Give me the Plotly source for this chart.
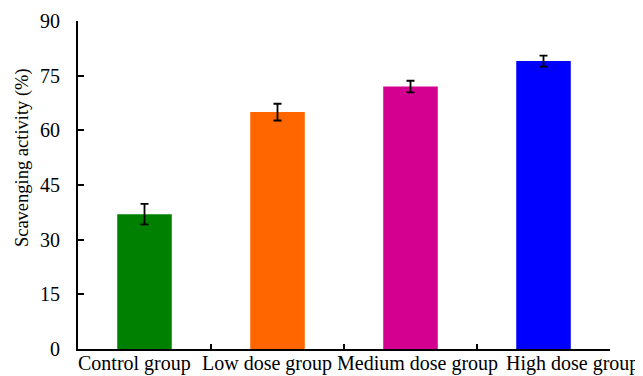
import plotly.graph_objects as go

categories = ["Control group", "Low dose group", "Medium dose group", "High dose group"]
values = [37.0, 65.0, 72.0, 79.0]
errors = [2.8, 2.3, 1.6, 1.5]
colors = ["#008000", "#FF6600", "#D4008F", "#0000FF"]
y_ticks = [0, 15, 30, 45, 60, 75, 90]
y_title = "Scavenging activity (%)"

# horizontal nudges of the category labels (style only)
label_shift = [-10, -11, 7, 29]

font_family = "Liberation Serif"

fig = go.Figure()
fig.add_trace(go.Bar(
    x=categories, y=values,
    marker=dict(color=colors, line=dict(width=0)),
    width=0.41,
    error_y=dict(type="data", array=errors, color="black", thickness=1.8, width=4),
))

for cat, dx in zip(categories, label_shift):
    fig.add_annotation(
        x=cat, xref="x", y=0, yref="paper", yanchor="top", xanchor="center",
        text=cat, showarrow=False, xshift=dx, yshift=-1,
        font=dict(size=20, family=font_family, color="black"),
    )

fig.add_annotation(
    x=0, xref="paper", y=0.582, yref="paper", xanchor="center", yanchor="middle",
    xshift=-56, text=y_title, textangle=-90, showarrow=False,
    font=dict(size=18.5, family=font_family, color="black"),
)

fig.update_layout(
    width=643, height=376,
    margin=dict(l=70, r=41, t=13, b=35, autoexpand=False),
    plot_bgcolor="white", paper_bgcolor="white",
    showlegend=False,
    font=dict(family=font_family, color="black", size=20),
)
fig.update_xaxes(
    type="category", categoryorder="array", categoryarray=categories,
    range=[-0.5, len(categories) - 0.5],
    showline=True, linecolor="black", linewidth=2,
    ticks="inside", tickson="boundaries", ticklen=5, tickwidth=1.5, tickcolor="black",
    showticklabels=False, automargin=False, showgrid=False,
)
fig.update_yaxes(
    range=[0, 90], tickvals=y_ticks,
    showline=True, linecolor="black", linewidth=2,
    ticks="inside", ticklen=6, tickwidth=1.5, tickcolor="black",
    ticklabelstandoff=12, automargin=False,
    tickfont=dict(size=20, family=font_family), showgrid=False, zeroline=False,
)
fig.write_html("out.html")
